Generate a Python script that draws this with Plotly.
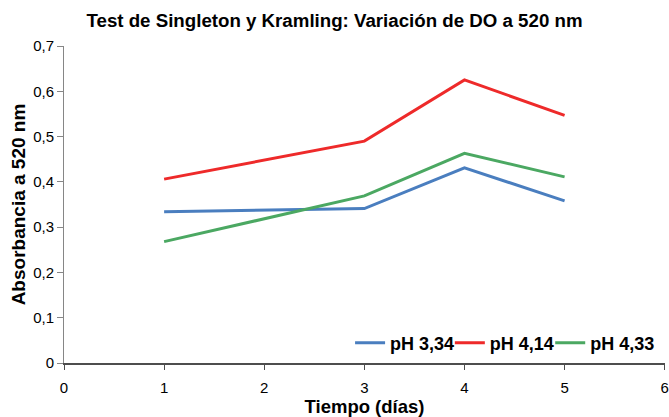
import plotly.graph_objects as go

dias = [1, 3, 4, 5]
ph_334 = [0.334, 0.341, 0.431, 0.358]
ph_414 = [0.406, 0.490, 0.625, 0.547]
ph_433 = [0.268, 0.369, 0.463, 0.411]
series = [("pH 3,34", ph_334, "#4A7EBF"), ("pH 4,14", ph_414, "#EE2A2A"), ("pH 4,33", ph_433, "#4BA862")]
x_ticks = [0, 1, 2, 3, 4, 5, 6]
y_ticks = [0, 0.1, 0.2, 0.3, 0.4, 0.5, 0.6, 0.7]
y_labels = ["0", "0,1", "0,2", "0,3", "0,4", "0,5", "0,6", "0,7"]

font = "Liberation Sans, Arial, sans-serif"

fig = go.Figure()
legend_ids = ["legend", "legend2", "legend3"]
for (name, vals, col), lg in zip(series, legend_ids):
    fig.add_trace(go.Scatter(x=dias, y=vals, mode="lines", name=name,
                             line=dict(color=col, width=3), legend=lg))

leg_common = dict(orientation="h", yanchor="middle", y=0.063, xanchor="left",
                  font=dict(size=18, family=font, weight="bold"),
                  bgcolor="rgba(0,0,0,0)", borderwidth=0)
fig.update_layout(
    width=669, height=417,
    margin=dict(l=64, r=4, t=46, b=54),
    paper_bgcolor="white", plot_bgcolor="white",
    font=dict(family=font, size=15, color="black"),
    title=dict(text="<b>Test de Singleton y Kramling: Variación de DO a 520 nm</b>",
               x=0.5, xref="container", xanchor="center", y=1 - 20 / 417, yanchor="middle",
               font=dict(size=18.7, family=font)),
    legend=dict(leg_common, x=0.476),
    legend2=dict(leg_common, x=0.642),
    legend3=dict(leg_common, x=0.809),
    showlegend=True,
)
fig.update_xaxes(range=[0, 6.003], tickmode="array", tickvals=x_ticks, showgrid=False,
                 zeroline=False,
                 showline=True, linecolor="#4d4d4d", linewidth=1.5, automargin=False,
                 ticks="outside", ticklen=5, tickcolor="#4d4d4d", ticklabelstandoff=5,
                 ticklabeloverflow="allow", tickfont=dict(size=15),
                 title=dict(text="<b>Tiempo (días)</b>", font=dict(size=18.5), standoff=3))
fig.update_yaxes(range=[0, 0.7], tickvals=y_ticks, ticktext=y_labels, showgrid=False,
                 zeroline=False, showline=True, linecolor="#868686", linewidth=1,
                 automargin=False, ticklabelstandoff=0, tickfont=dict(size=15),
                 ticks="outside", ticklen=6, tickcolor="#868686",
                 title=dict(text="<b>Absorbancia a 520 nm</b>", font=dict(size=19), standoff=2))
fig.write_html("out.html", config={"displayModeBar": False},
               post_script="document.body.style.margin='0';document.body.style.overflow='hidden';")
